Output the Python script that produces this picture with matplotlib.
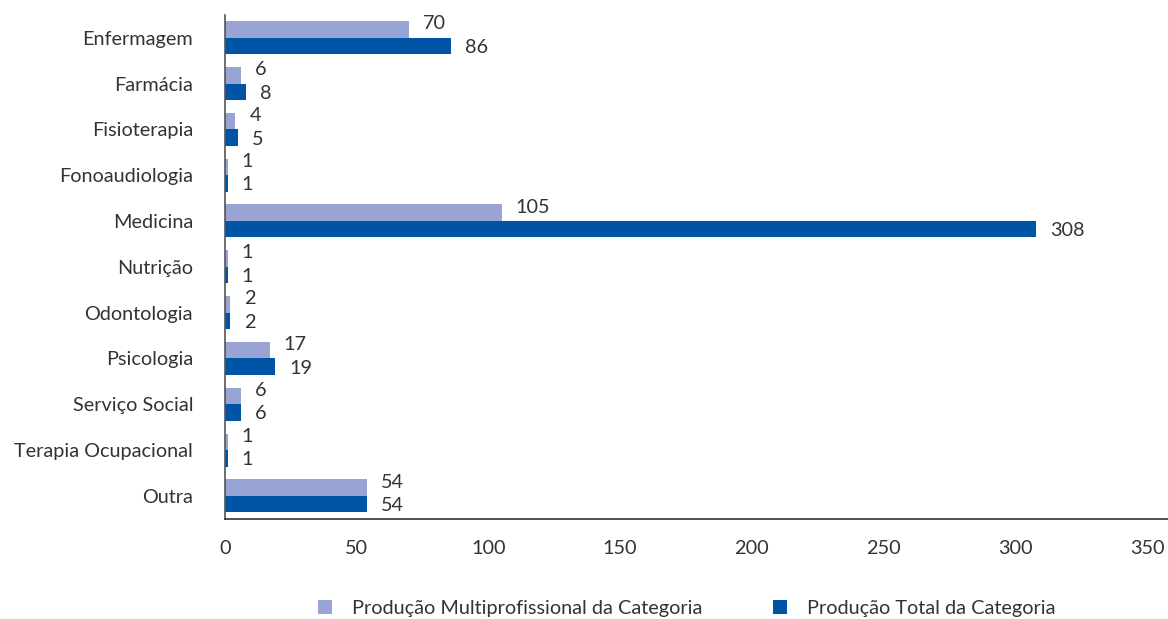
import matplotlib.pyplot as plt
import numpy as np

categorias = ["Enfermagem", "Farmácia", "Fisioterapia", "Fonoaudiologia", "Medicina",
              "Nutrição", "Odontologia", "Psicologia", "Serviço Social",
              "Terapia Ocupacional", "Outra"]
multiprof = [70, 6, 4, 1, 105, 1, 2, 17, 6, 1, 54]
total = [86, 8, 5, 1, 308, 1, 2, 19, 6, 1, 54]

cor_clara = "#98A5D4"
cor_escura = "#0054A6"

plt.rcParams['font.family'] = ['Lato', 'DejaVu Sans']
fs = 14.3

fig = plt.figure(figsize=(11.68, 6.19), dpi=100)
ax = fig.add_axes([0.1926, 0.162, 0.8074, 0.814])

y = np.arange(len(categorias))
h = 0.36
b1 = ax.barh(y - h / 2, multiprof, height=h, color=cor_clara,
             label="Produção Multiprofissional da Categoria")
b2 = ax.barh(y + h / 2, total, height=h, color=cor_escura,
             label="Produção Total da Categoria")

for yi, v in zip(y, multiprof):
    ax.annotate(str(v), (v, yi - h / 2), xytext=(10, 4), textcoords="offset points",
                va="center", ha="left", fontsize=fs, color="#333333")
for yi, v in zip(y, total):
    ax.annotate(str(v), (v, yi + h / 2), xytext=(10, -1), textcoords="offset points",
                va="center", ha="left", fontsize=fs, color="#333333")

ax.set_yticks(y)
ax.set_yticklabels(categorias, fontsize=fs, color="#333333")
ax.set_ylim(len(categorias) - 0.5, -0.5)
ax.set_xlim(0, 358)
ax.set_xticks(np.arange(0, 351, 50))
ax.tick_params(axis="x", labelsize=fs, labelcolor="#333333", length=0, pad=15)
ax.tick_params(axis="y", length=0, pad=23)

for s in ["top", "right"]:
    ax.spines[s].set_visible(False)
ax.spines["left"].set_color("#555555")
ax.spines["bottom"].set_color("#333333")
ax.spines["left"].set_linewidth(1.2)
ax.spines["bottom"].set_linewidth(1.2)

fig.legend(handles=[b1, b2], loc="lower center", bbox_to_anchor=(0.588, -0.025),
           ncol=2, frameon=False, fontsize=fs, handlelength=0.7, handleheight=0.7,
           columnspacing=3.6, handletextpad=1.0, labelcolor="#333333")

fig.savefig("out.png", dpi=100)
